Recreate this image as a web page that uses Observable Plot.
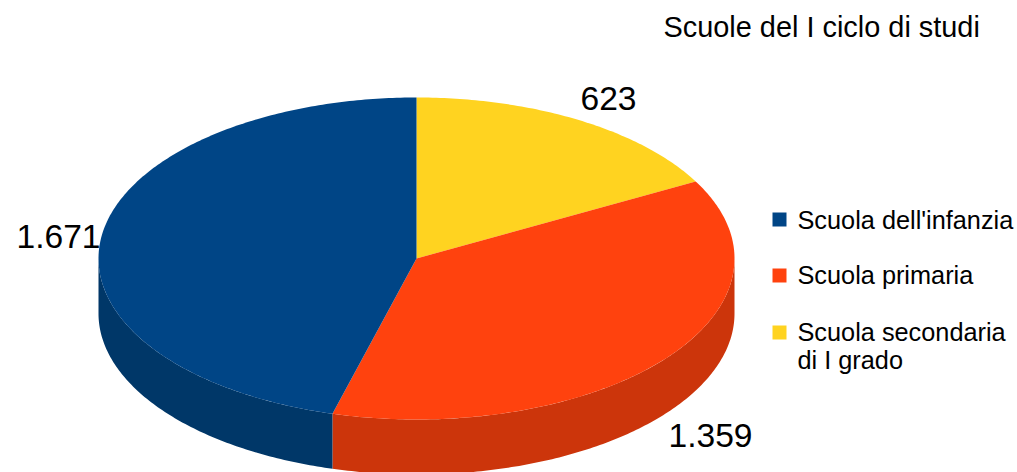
<!DOCTYPE html>
<html>
<head>
<meta charset="utf-8">
<script src="https://cdn.jsdelivr.net/npm/d3@7"></script>
<script src="https://cdn.jsdelivr.net/npm/@observablehq/plot@0.6"></script>
<style>html,body{margin:0;padding:0;background:#fff}svg{display:block}</style>
</head>
<body>
<div id="chart"></div>
<script>
const titleText = "Scuole del I ciclo di studi";
const categories = ["Scuola dell'infanzia", "Scuola primaria", "Scuola secondaria\ndi I grado"];
const values = [1671, 1359, 623];
const valueLabels = ["1.671", "1.359", "623"];
const colors = ["#004586", "#ff420e", "#ffd320"];
const sideColors = ["#003768", "#cc350b", "#cca91a"];

// layout (pixels)
const W = 1017, H = 472, cx = 416, cy = 258, rx = 318, ry = 161, depth = 55;
const labelAt = [[16, 237], [668, 436], [580, 99]];
const legendAt = [[797, 221], [797, 276], [797, 333]];
const swatchAt = [[779, 219], [779, 275], [779, 332]];

// Pie angles, clockwise from the top: slices run yellow, red, blue.
const total = d3.sum(values);
const order = [2, 1, 0];
let acc = 0;
const slices = order.map(i => {
  const a0 = acc / total * 2 * Math.PI;
  acc += values[i];
  return {i, a0, a1: acc / total * 2 * Math.PI};
});
const rim = (a, drop = 0) => ({x: Math.sin(a), y: Math.cos(a) - drop});
function arc(a0, a1, drop = 0) {
  const n = Math.max(2, Math.ceil((a1 - a0) * 80));
  return d3.range(n + 1).map(k => rim(a0 + (a1 - a0) * k / n, drop));
}
const drop = depth / ry;
const topPoly = s => [{x: 0, y: 0}, ...arc(s.a0, s.a1)];
// Only the front half of the rim shows a wall.
function sidePoly(s) {
  const a0 = Math.max(s.a0, Math.PI / 2), a1 = Math.min(s.a1, 3 * Math.PI / 2);
  if (a1 <= a0) return null;
  return [...arc(a0, a1), ...arc(a0, a1, drop).reverse()];
}

const marks = [];
slices.forEach(s => {
  const p = sidePoly(s);
  if (p) marks.push(Plot.line(p, {x: "x", y: "y", fill: sideColors[s.i], stroke: "none", curve: "linear"}));
});
slices.forEach(s => {
  marks.push(Plot.line(topPoly(s), {x: "x", y: "y", fill: colors[s.i], stroke: "none", curve: "linear"}));
});
const textFont = "Liberation Sans";
marks.push(Plot.text([titleText], {frameAnchor: "top-left", dx: 663, dy: 27, text: d => d, fontSize: 28.9, fill: "#000", fontFamily: textFont, textAnchor: "start", lineAnchor: "middle"}));
values.forEach((v, i) => {
  marks.push(Plot.text([valueLabels[i]], {frameAnchor: "top-left", dx: labelAt[i][0], dy: labelAt[i][1], text: d => d, fontSize: 33.6, fill: "#000", fontFamily: textFont, textAnchor: "start", lineAnchor: "middle"}));
});
categories.forEach((c, i) => {
  marks.push(Plot.dot([c], {frameAnchor: "top-left", dx: swatchAt[i][0], dy: swatchAt[i][1], symbol: "square", r: 7.9, fill: colors[i], stroke: "none"}));
  marks.push(Plot.text([c], {frameAnchor: "top-left", dx: legendAt[i][0], dy: legendAt[i][1] - 12, text: d => d, fontSize: 25.3, lineHeight: 1.1, fill: "#000", fontFamily: textFont, textAnchor: "start", lineAnchor: "top"}));
});

const chart = Plot.plot({
  width: W, height: H,
  margin: 0,
  x: {domain: [-cx / rx, (W - cx) / rx], range: [0, W], axis: null},
  y: {domain: [(cy - H) / ry, cy / ry], range: [H, 0], axis: null},
  marks
});
document.getElementById("chart").append(chart);
</script>
</body>
</html>
